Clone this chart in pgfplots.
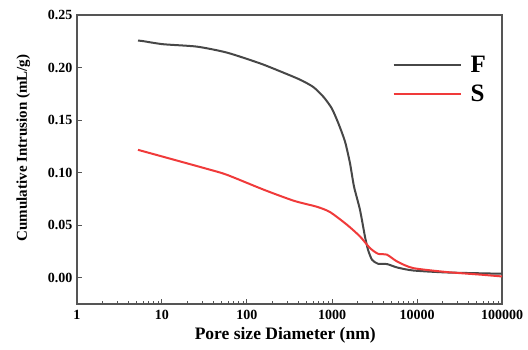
\documentclass[border=0pt]{standalone}
\usepackage{fontspec}
\setmainfont{Liberation Serif}
\usepackage{pgfplots}
\pgfplotsset{compat=1.18}
\definecolor{fgray}{HTML}{474747}
\definecolor{sred}{HTML}{F03A3A}
\definecolor{axgray}{HTML}{555555}

\begin{document}
\begin{tikzpicture}[x=1pt,y=1pt]
\path[use as bounding box] (-77,-45) rectangle (451,304);
\begin{axis}[
  scale only axis,
  width=425pt, height=289pt,
  xmode=log,
  xmin=1, xmax=100000,
  ymin=-0.025, ymax=0.25,
  axis line style={axgray, line width=1.3pt},
  xtick={1,10,100,1000,10000,100000},
  xticklabels={1,10,100,1000,10000,100000},
  minor xtick={2,3,4,5,6,7,8,9,20,30,40,50,60,70,80,90,200,300,400,500,600,700,800,900,2000,3000,4000,5000,6000,7000,8000,9000,20000,30000,40000,50000,60000,70000,80000,90000},
  ytick={0,0.05,0.10,0.15,0.20,0.25},
  y tick label style={/pgf/number format/fixed, /pgf/number format/fixed zerofill, /pgf/number format/precision=2},
  /pgf/number format/assume math mode=true,
  xtick pos=left, ytick pos=left,
  tick align=inside,
  major tick length=5pt, minor tick length=3pt,
  tick style={axgray, line width=1pt},
  ticklabel style={font=\fontsize{14}{14}\selectfont\bfseries},
  xticklabel style={yshift=-3pt},
  yticklabel style={xshift=-1pt},
  xlabel={Pore size Diameter (nm)},
  ylabel={Cumulative Intrusion (mL/g)},
  xlabel style={font=\fontsize{17.5}{17.5}\selectfont\bfseries, at={(axis description cs:0.49,-0.107)}, anchor=center},
  ylabel style={font=\fontsize{15}{15}\selectfont\bfseries, at={(axis description cs:-0.126,0.54)}, anchor=center},
  legend style={at={(axis description cs:0.735,0.872)}, anchor=north west, draw=none, fill=none,
    font=\fontsize{25}{25}\selectfont\bfseries, row sep=7pt},
  legend cell align=left,
  legend image code/.code={\draw[#1] (0pt,0pt) -- (67pt,0pt); \path (74pt,0pt);},
]
\addplot[fgray, line width=2pt, smooth, tension=0.4] coordinates {
  (5.22,0.2256) (5.82,0.2253) (10.3,0.2222) (25.8,0.2199) (58.2,0.2142)
  (142,0.2040) (244,0.1965) (420,0.1885) (602,0.1815) (790,0.1723)
  (992,0.1613) (1186,0.1471) (1422,0.1296) (1628,0.1090) (1815,0.0868)
  (2134,0.0646) (2445,0.0390) (2653,0.0266) (2958,0.0171) (3478,0.0133)
  (4437,0.0130) (5820,0.0098) (8970,0.0069) (22540,0.0050) (100000,0.0038)
};
\addlegendentry{F}
\addplot[sred, line width=2pt, smooth, tension=0.4] coordinates {
  (5.22,0.1217) (33.8,0.1036) (58.2,0.0979) (158,0.0837) (357,0.0732)
  (666,0.0675) (947,0.0625) (1501,0.0504) (2134,0.0393) (2800,0.0282)
  (3478,0.0228) (4437,0.0219) (5820,0.0155) (8970,0.0092) (22540,0.0054)
  (56600,0.0029) (100000,0.0012)
};
\addlegendentry{S}
\end{axis}
\end{tikzpicture}
\end{document}
